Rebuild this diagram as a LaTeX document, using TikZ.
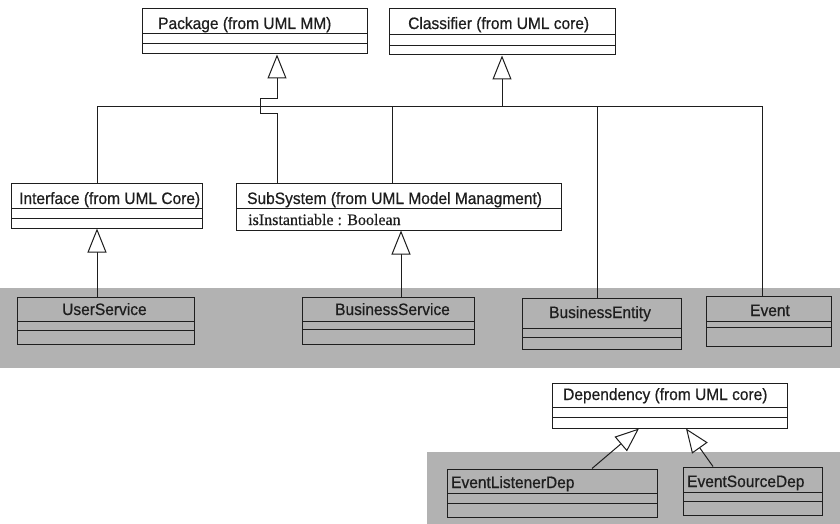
\documentclass[tikz,border=0pt]{standalone}
\usepackage{fontspec}
\setmainfont{Liberation Serif}[FakeBold=0.5]
\newfontfamily\sansf{Liberation Sans}[FakeStretch=0.94, FakeBold=0.6]
\usetikzlibrary{arrows.meta,fit}
\definecolor{band}{RGB}{178,178,178}
\definecolor{ink}{RGB}{30,30,30}
\tikzset{
  box/.style={draw=ink, line width=1pt, inner sep=0pt},
  conn/.style={draw=ink, line width=1pt},
  gen/.style={draw=ink, line width=1pt, -{Triangle[open, length=24pt, width=19pt, fill=white]}},
  lbl/.style={font=\sansf\fontsize{16.5}{19}\selectfont, text=ink, inner sep=0pt, anchor=base west},
  attr/.style={font=\fontsize{16}{19}\selectfont, text=ink, inner sep=0pt, anchor=base west},
}
% #1 name, #2 x1, #3 y1, #4 x2, #5 y2, #6 sep1, #7 sep2
\newcommand\umlclass[7]{%
  \node[box, fit={(#2,#3) (#4,#5)}] (#1) {};
  \draw[conn] (#2,#6) -- (#4,#6);
  \draw[conn] (#2,#7) -- (#4,#7);
}
\begin{document}
\begin{tikzpicture}[x=1pt,y=-1pt]
  \fill[white] (0,0) rectangle (840,524);
  \useasboundingbox (0,0) rectangle (840,524);
  % grey bands
  \fill[band] (0,288) rectangle (840,368);
  \fill[band] (427,452) rectangle (840,524);

  % classes
  \umlclass{pkg}{142}{9}{367}{54}{34}{44}
  \node[lbl] (pkgT) at (158,29) {Package (from UML MM)};
  \umlclass{cls}{389}{9}{615}{55}{35}{46}
  \node[lbl] (clsT) at (408,29) {Classifier (from UML core)};

  \umlclass{iface}{11}{183}{202}{228}{208}{218}
  \node[lbl] (ifaceT) at (19,204) {Interface (from UML Core)};

  \node[box, fit={(236,183) (561,230)}] (sub) {};
  \draw[conn] (236,208) -- (561,208);
  \node[lbl] (subT) at (247,204) {SubSystem (from UML Model Managment)};
  \node[attr] (subA) at (248,225) {isInstantiable : Boolean};

  \umlclass{usvc}{17}{297}{194}{344}{321}{330}
  \node[lbl] (usvcT) at (62,315) {UserService};
  \umlclass{bsvc}{302}{297}{474}{344}{321}{329}
  \node[lbl] (bsvcT) at (335,315) {BusinessService};
  \umlclass{bent}{522}{298}{681}{349}{328}{337}
  \node[lbl] (bentT) at (549,318) {BusinessEntity};
  \umlclass{evt}{706}{296}{831}{346}{321}{327}
  \node[lbl] (evtT) at (750,316) {Event};

  \umlclass{dep}{552}{383}{787}{428}{407}{417}
  \node[lbl] (depT) at (563,400) {Dependency (from UML core)};
  \umlclass{eld}{447}{469}{657}{517}{493}{503}
  \node[lbl] (eldT) at (451,488) {EventListenerDep};
  \umlclass{esd}{683}{467}{822}{515}{492}{501}
  \node[lbl] (esdT) at (687,487) {EventSourceDep};

  % tree to Classifier
  \coordinate (tL) at (97,107);
  \coordinate (tR) at (762,107);
  \coordinate (tS) at (392,107);
  \coordinate (tE) at (597,107);
  \coordinate (tC) at (502,107);
  \draw[conn] (tL |- iface.north) -- (tL) -- (tR) -- (tR |- evt.north);
  \draw[conn] (tS |- sub.north) -- (tS);
  \draw[conn] (tE |- bent.north) -- (tE);
  \draw[gen] (tC) -- (tC |- cls.south);

  % SubSystem -> Package, hopping over the bar
  \coordinate (h) at (277,107);
  \draw[gen] (h |- sub.north) -- ([yshift=-7pt]h) -- ([xshift=-17pt,yshift=-7pt]h)
     -- ([xshift=-17pt,yshift=8pt]h) -- ([yshift=8pt]h) -- (h |- pkg.south);

  % services
  \coordinate (v1) at (97,260);
  \coordinate (v2) at (401,260);
  \draw[gen] (v1 |- usvc.north) -- (v1 |- iface.south);
  \draw[gen] (v2 |- bsvc.north) -- (v2 |- sub.south);

  % dependencies
  \draw[gen] ([xshift=40pt]eld.north) -- ([xshift=-30.5pt]dep.south);
  \draw[gen] ([xshift=-39.5pt]esd.north) -- ([xshift=16.5pt]dep.south);
\end{tikzpicture}
\end{document}
